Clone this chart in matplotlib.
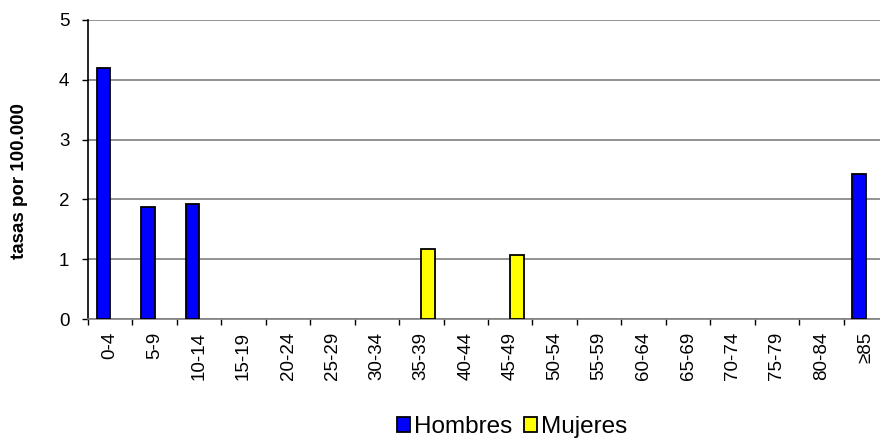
import numpy as np
import matplotlib
matplotlib.use("Agg")
import matplotlib.pyplot as plt

plt.rcParams['font.family'] = ['Liberation Sans', 'DejaVu Sans']

grupos = ['0-4', '5-9', '10-14', '15-19', '20-24', '25-29', '30-34', '35-39',
          '40-44', '45-49', '50-54', '55-59', '60-64', '65-69', '70-74',
          '75-79', '80-84', '≥85']
hombres = [4.19, 1.88, 1.92, 0, 0, 0, 0, 0, 0, 0, 0, 0, 0, 0, 0, 0, 0, 2.42]
mujeres = [0, 0, 0, 0, 0, 0, 0, 1.17, 0, 1.07, 0, 0, 0, 0, 0, 0, 0, 0]

fig = plt.figure(figsize=(8.8, 4.41), dpi=100)
ax = fig.add_axes([88/880, 122/441, 800/880, 299/441])

x = np.arange(len(grupos))
w = 0.3
h = np.array(hombres)
m = np.array(mujeres)
bh = ax.bar(x[h > 0] - w/2, h[h > 0], width=w, color='#0000ff',
            edgecolor='black', linewidth=1.3, label='Hombres', zorder=3)
bm = ax.bar(x[m > 0] + w/2, m[m > 0], width=w, color='#ffff00',
            edgecolor='black', linewidth=1.3, label='Mujeres', zorder=3)

ax.set_xlim(-0.5, len(grupos) - 0.5)
ax.set_ylim(0, 5)
ax.set_yticks(range(6))
ax.yaxis.grid(True, color='#808080', linewidth=1.2, zorder=0)
ax.set_axisbelow(True)

ax.set_xticks(np.arange(len(grupos) + 1) - 0.5)
ax.set_xticklabels([])
ax.set_xticks(x, minor=True)
ax.set_xticklabels(grupos, minor=True, rotation=90, fontsize=13.5)
ax.tick_params(axis='x', which='minor', length=0, pad=9)
ax.tick_params(axis='x', which='major', length=4.5, width=1, color='black')
ax.tick_params(axis='y', length=4.5, width=1, labelsize=13.5, pad=9)

for s in ['top', 'right']:
    ax.spines[s].set_visible(False)
ax.spines['left'].set_color('black')
ax.spines['left'].set_linewidth(1.2)
ax.spines['bottom'].set_color('#808080')
ax.spines['bottom'].set_linewidth(1.2)

ax.set_ylabel('tasas por 100.000', fontsize=13.5, fontweight='bold')
ax.yaxis.set_label_coords(-0.075, 0.46)

fig.legend(handles=[bh, bm], labels=['Hombres', 'Mujeres'], loc='center',
           bbox_to_anchor=(512/880, 1 - 427/441), ncol=2, frameon=False,
           fontsize=17.5, handlelength=0.55, handleheight=0.55, handletextpad=0.15,
           columnspacing=0.5, borderpad=0.1)

fig.savefig('out.png', dpi=100)
